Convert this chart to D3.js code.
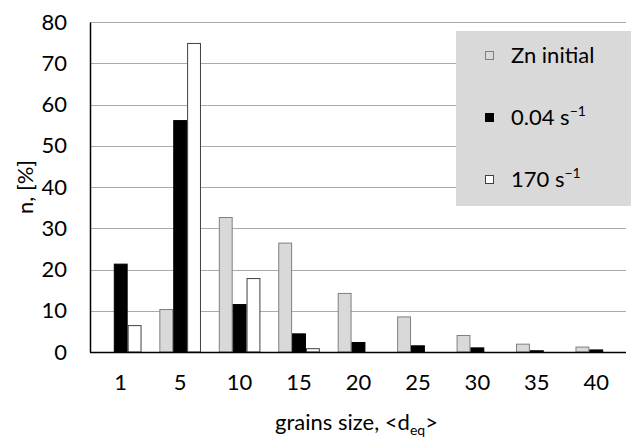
<!DOCTYPE html>
<html>
<head>
<meta charset="utf-8">
<script src="https://cdn.jsdelivr.net/npm/d3@7"></script>
<style>
  body { margin: 0; background: #fff; }
  svg { display: block; }
  text { font-family: Lato, "Open Sans", sans-serif; fill: #000; }
</style>
</head>
<body>
<svg id="chart" width="631" height="437"></svg>
<script>
// grain size classes
const categories = ["1", "5", "10", "15", "20", "25", "30", "35", "40"];
// series values, n [%]
const znInitial = [0, 10.3, 32.6, 26.4, 14.2, 8.5, 4.0, 1.9, 1.2];
const rate004 = [21.3, 56.1, 11.5, 4.4, 2.3, 1.5, 1.0, 0.3, 0.5];
const rate170 = [6.4, 74.8, 17.8, 0.8, 0, 0, 0, 0, 0];
const yTicks = [0, 10, 20, 30, 40, 50, 60, 70, 80];

const series = [
  { key: "zn", values: znInitial, fill: "#d9d9d9", stroke: "#7f7f7f" },
  { key: "r004", values: rate004, fill: "#000", stroke: "#000" },
  { key: "r170", values: rate170, fill: "#fff", stroke: "#404040" }
];

const svg = d3.select("#chart");
const pLeft = 91, pRight = 626, pTop = 22, pBottom = 352;
const fontSize = "22px";

const x0 = d3.scaleBand()
  .domain(categories)
  .range([pLeft, pRight])
  .paddingInner(0.3)
  .paddingOuter(0.15);

const x1 = d3.scaleBand()
  .domain(series.map(s => s.key))
  .range([0, x0.bandwidth()]);

const y = d3.scaleLinear()
  .domain([0, 80])
  .range([pBottom, pTop]);

// gridlines
svg.append("g")
  .selectAll("line")
  .data(yTicks.filter(d => d > 0))
  .join("line")
  .attr("x1", pLeft - 1)
  .attr("x2", pRight)
  .attr("y1", d => Math.round(y(d)) + 0.5)
  .attr("y2", d => Math.round(y(d)) + 0.5)
  .style("stroke", "#ababab")
  .style("stroke-width", 1.2);

// legend box (sits over the gridlines)
const legend = svg.append("g");
legend.append("rect")
  .attr("x", 456).attr("y", 31)
  .attr("width", 175).attr("height", 175)
  .style("fill", "#d9d9d9");

// bars
const groups = svg.append("g")
  .selectAll("g")
  .data(categories)
  .join("g")
  .attr("transform", d => `translate(${x0(d)},0)`);

groups.selectAll("rect")
  .data((d, i) => series.map(s => ({ s: s, v: s.values[i] })))
  .join("rect")
  .filter(d => d.v > 0)
  .attr("x", d => x1(d.s.key) + 0.5)
  .attr("y", d => y(d.v))
  .attr("width", x1.bandwidth() - 1)
  .attr("height", d => y(0) - y(d.v))
  .style("fill", d => d.s.fill)
  .style("stroke", d => d.s.stroke)
  .style("stroke-width", 1);

// axes
const xAxis = svg.append("g")
  .attr("transform", `translate(0,${pBottom})`)
  .call(d3.axisBottom(x0).tickSize(0).tickPadding(22));
xAxis.select(".domain").attr("d", `M${pLeft - 1},0.5H${pRight}`).style("stroke", "#000").style("stroke-width", 1.5);
xAxis.selectAll("text").style("font-size", fontSize).style("font-family", "Lato, sans-serif");

const yAxis = svg.append("g")
  .attr("transform", `translate(${pLeft - 1},0)`)
  .call(d3.axisLeft(y).tickValues(yTicks).tickSize(0).tickPadding(23));
yAxis.select(".domain").style("stroke", "#000").style("stroke-width", 1.5);
yAxis.selectAll("text").style("font-size", fontSize).style("font-family", "Lato, sans-serif");

// axis titles
svg.append("text")
  .attr("transform", `translate(33,${(pTop + pBottom) / 2}) rotate(-90)`)
  .attr("text-anchor", "middle")
  .style("font-size", fontSize)
  .text("n, [%]");

const xt = svg.append("text")
  .attr("x", (pLeft + pRight) / 2 - 2)
  .attr("y", 430)
  .attr("text-anchor", "middle")
  .style("font-size", fontSize);
xt.append("tspan").text("grains size, <d");
xt.append("tspan").attr("dy", 5).style("font-size", "14px").text("eq");
xt.append("tspan").attr("dy", -5).text(">");

// legend entries
const legendItems = [
  { s: series[0], label: "Zn initial", sup: "" },
  { s: series[1], label: "0.04 s", sup: "\u22121" },
  { s: series[2], label: "170 s", sup: "\u22121" }
];
const rowY = [63, 125, 187];

const li = legend.selectAll("g")
  .data(legendItems)
  .join("g")
  .attr("transform", (d, i) => `translate(0,${rowY[i]})`);

li.append("rect")
  .attr("x", 485.5).attr("y", -11.5)
  .attr("width", 8).attr("height", 8)
  .style("fill", d => d.s.fill)
  .style("stroke", d => d.s.stroke)
  .style("stroke-width", 1);

const lt = li.append("text")
  .attr("x", 511)
  .attr("y", 0)
  .style("font-size", fontSize);
lt.append("tspan").text(d => d.label);
lt.append("tspan")
  .attr("dy", -9)
  .style("font-size", "14px")
  .text(d => d.sup);
</script>
</body>
</html>
